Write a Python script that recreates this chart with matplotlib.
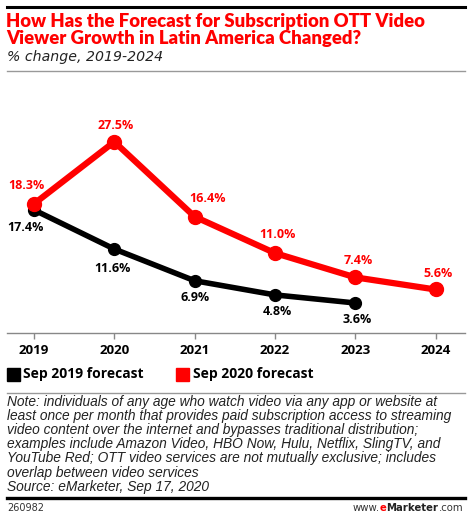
import matplotlib
matplotlib.use("Agg")
import matplotlib.pyplot as plt
from matplotlib.lines import Line2D
from matplotlib.patches import Rectangle

years = [2019, 2020, 2021, 2022, 2023, 2024]
sep2019_years = [2019, 2020, 2021, 2022, 2023]
sep2019_values = [17.4, 11.6, 6.9, 4.8, 3.6]
sep2020_years = [2019, 2020, 2021, 2022, 2023, 2024]
sep2020_values = [18.3, 27.5, 16.4, 11.0, 7.4, 5.6]
series_names = ["Sep 2019 forecast", "Sep 2020 forecast"]

title_lines = ["How Has the Forecast for Subscription OTT Video",
               "Viewer Growth in Latin America Changed?"]
subtitle = "% change, 2019-2024"
note_lines = ["Note: individuals of any age who watch video via any app or website at",
              "least once per month that provides paid subscription access to streaming",
              "video content over the internet and bypasses traditional distribution;",
              "examples include Amazon Video, HBO Now, Hulu, Netflix, SlingTV, and",
              "YouTube Red; OTT video services are not mutually exclusive; includes",
              "overlap between video services",
              "Source: eMarketer, Sep 17, 2020"]
chart_id = "260982"

RED = "#ff0000"
BLACK = "#000000"
W, H = 470, 519
BOLDFONT = "Open Sans"

fig = plt.figure(figsize=(W / 100, H / 100), dpi=100)

def fx(px):
    return px / W

def fy(py):
    return 1 - py / H

ax = fig.add_axes([fx(7), fy(333), fx(465) - fx(7), fy(80) - fy(333)])
ax.set_xlim(2018.664, 2024.367)
ax.set_ylim(-0.85, 36.66)

ax.plot(sep2019_years, sep2019_values, color=BLACK, lw=4.0, marker="o", ms=8.5,
        solid_joinstyle="round", zorder=3)
ax.plot(sep2020_years, sep2020_values, color=RED, lw=4.5, marker="o", ms=10,
        solid_joinstyle="round", zorder=4)

# label offsets in pixels (dx, dy) relative to point
black_off = [(-8, -18), (-2, -19), (0, -17), (2, -17), (2, -17)]
red_off = [(-8, 18), (1, 16), (13, 18), (3, 19), (3, 17), (3, 16)]
lab_font = dict(fontsize=9.0, fontweight="bold", ha="center", va="center",
                family=BOLDFONT)
for x, v, (dx, dy) in zip(sep2019_years, sep2019_values, black_off):
    ax.annotate(f"{v:.1f}%", (x, v), xytext=(dx * 0.72, dy * 0.72),
                textcoords="offset points", color=BLACK, **lab_font)
for x, v, (dx, dy) in zip(sep2020_years, sep2020_values, red_off):
    ax.annotate(f"{v:.1f}%", (x, v), xytext=(dx * 0.72, dy * 0.72),
                textcoords="offset points", color=RED, **lab_font)

for s in ["top", "right", "left"]:
    ax.spines[s].set_visible(False)
ax.spines["bottom"].set_color("#888888")
ax.spines["bottom"].set_linewidth(1.0)
ax.set_yticks([])
ax.set_xticks(years)
ax.set_xticklabels([str(y) for y in years], fontsize=9.6, fontweight="bold",
                   family=BOLDFONT)
ax.tick_params(axis="x", direction="out", length=4, width=1, color="#888888", pad=4)

# top rule
fig.add_artist(Line2D([fx(7), fx(465)], [fy(7), fy(7)], color="black", lw=2.2))
for i, line in enumerate(title_lines):
    fig.text(fx(6), fy(21 + 17.5 * i), line, color=RED, fontsize=13.3,
             fontweight="heavy", family="Lato", ha="left", va="center")
fig.text(fx(7), fy(57), subtitle, color="#222222", fontsize=10.2, style="italic",
         family="DejaVu Sans", ha="left", va="center")
fig.add_artist(Line2D([fx(7), fx(465)], [fy(70.5), fy(70.5)], color="#999999", lw=1.0))

# legend
fig.add_artist(Rectangle((fx(7), fy(381)), fx(13), fy(0) - fy(13), color=BLACK,
                         transform=fig.transFigure))
fig.text(fx(23), fy(374), series_names[0], fontsize=10.0, fontweight="bold",
         family=BOLDFONT, ha="left", va="center")
fig.add_artist(Rectangle((fx(176), fy(381)), fx(13), fy(0) - fy(13), color=RED,
                         transform=fig.transFigure))
fig.text(fx(193), fy(374), series_names[1], fontsize=10.0, fontweight="bold",
         family=BOLDFONT, ha="left", va="center")

fig.add_artist(Line2D([fx(7), fx(465)], [fy(393), fy(393)], color="#999999", lw=1.0))
for i, line in enumerate(note_lines):
    fig.text(fx(7), fy(401.7 + 14.17 * i), line, fontsize=9.9, style="italic",
             family="Liberation Sans", ha="left", va="center", color="#222222")

fig.add_artist(Line2D([fx(7), fx(465)], [fy(498), fy(498)], color="black", lw=2.4))
fig.text(fx(7), fy(508), chart_id, fontsize=7, family="DejaVu Sans", ha="left",
         va="center", color="#333333")

# www.eMarketer.com, right aligned
fig.canvas.draw()
r = fig.canvas.get_renderer()
parts = [("www.", "normal", "#333333"), ("e", "bold", RED), ("Marketer", "bold", "#222222"),
         (".com", "normal", "#333333")]
x_right = 463
texts = []
for s, w, c in parts:
    t = fig.text(0, fy(508), s, fontsize=7.3, fontweight=w, color=c,
                 family="DejaVu Sans", ha="left", va="center")
    texts.append(t)
widths = [t.get_window_extent(r).width for t in texts]
x = x_right - sum(widths)
for t, wd in zip(texts, widths):
    t.set_x(fx(x))
    x += wd

fig.savefig("out.png", dpi=100)
